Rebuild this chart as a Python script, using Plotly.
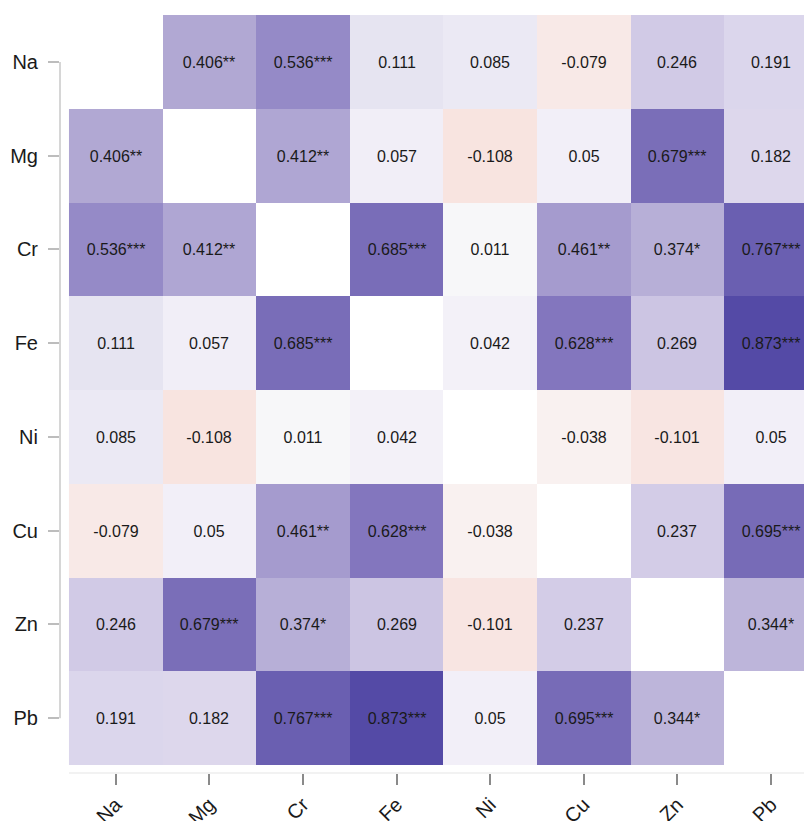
import numpy as np
import plotly.graph_objects as go

elements = ["Na", "Mg", "Cr", "Fe", "Ni", "Cu", "Zn", "Pb"]

# Pearson r for each pair (upper triangle, row by row)
r_upper = [
    [0.406, 0.536, 0.111, 0.085, -0.079, 0.246, 0.191],
    [0.412, 0.057, -0.108, 0.05, 0.679, 0.182],
    [0.685, 0.011, 0.461, 0.374, 0.767],
    [0.042, 0.628, 0.269, 0.873],
    [-0.038, -0.101, 0.05],
    [0.237, 0.695],
    [0.344],
]

# significance marks for the same pairs
sig_upper = [
    ["**", "***", "", "", "", "", ""],
    ["**", "", "", "", "***", ""],
    ["***", "", "**", "*", "***"],
    ["", "***", "", "***"],
    ["", "", ""],
    ["", "***"],
    ["*"],
]

n = len(elements)
z = np.full((n, n), np.nan)
labels = [["" for _ in range(n)] for _ in range(n)]
for i, row in enumerate(r_upper):
    for k, val in enumerate(row):
        j = i + 1 + k
        z[i, j] = z[j, i] = val
        txt = f"{val:g}" + sig_upper[i][k]
        labels[i][j] = labels[j][i] = txt

z_list = [[None if np.isnan(v) else float(v) for v in row] for row in z]

zmin, zmax = -1.0, 1.0
stops = [
    (-1.0, "#d9705f"),
    (-0.2, "#f2d4cf"),
    (-0.1, "#f8e5e2"),
    (0.0, "#f9f9f9"),
    (0.05, "#f2eff8"),
    (0.1, "#e8e6f2"),
    (0.2, "#dad4eb"),
    (0.4, "#b2a9d4"),
    (0.6, "#887bc1"),
    (0.7, "#766ab6"),
    (0.8, "#645aae"),
    (0.873, "#544aa6"),
    (1.0, "#3e3396"),
]
colorscale = [[(v - zmin) / (zmax - zmin), c] for v, c in stops]

fig = go.Figure(
    go.Heatmap(
        z=z_list,
        x=list(range(n)),
        y=list(range(n)),
        text=labels,
        texttemplate="%{text}",
        textfont=dict(family="Liberation Sans, Arial, sans-serif", size=16, color="#1a1a1a"),
        colorscale=colorscale,
        zmin=zmin,
        zmax=zmax,
        showscale=False,
        hoverongaps=False,
    )
)

fig.update_layout(
    width=804,
    height=821,
    margin=dict(l=60, r=0, t=15, b=48, autoexpand=False),
    plot_bgcolor="white",
    paper_bgcolor="white",
    font=dict(family="Liberation Sans, Arial, sans-serif", color="#1a1a1a"),
    xaxis=dict(
        range=[-0.596, 7.353],
        tickmode="array",
        tickvals=list(range(n)),
        ticktext=elements,
        tickangle=-45,
        ticks="outside",
        ticklen=11,
        tickwidth=1.5,
        tickcolor="#8a8a8a",
        tickfont=dict(size=20, color="#1a1a1a"),
        showgrid=False,
        zeroline=False,
        showline=False,
        automargin=False,
    ),
    yaxis=dict(
        range=[7.585, -0.5],
        tickmode="array",
        tickvals=list(range(n)),
        ticktext=elements,
        ticks="outside",
        ticklen=11,
        tickwidth=1.5,
        tickcolor="#bdbdbd",
        tickfont=dict(size=20, color="#1a1a1a"),
        ticklabelstandoff=6,
        showgrid=False,
        zeroline=False,
        showline=False,
        automargin=False,
    ),
)

# axis lines: left one spans first to last tick, bottom one is faint
fig.add_shape(type="line", xref="paper", yref="y", x0=0, x1=0, y0=0, y1=n - 1,
              line=dict(color="#c8c8c8", width=1.5))
fig.add_shape(type="line", xref="x", yref="paper", x0=-0.5, x1=n - 0.5, y0=0, y1=0,
              line=dict(color="#eeeeee", width=1.5))

fig.write_html("out.html")
